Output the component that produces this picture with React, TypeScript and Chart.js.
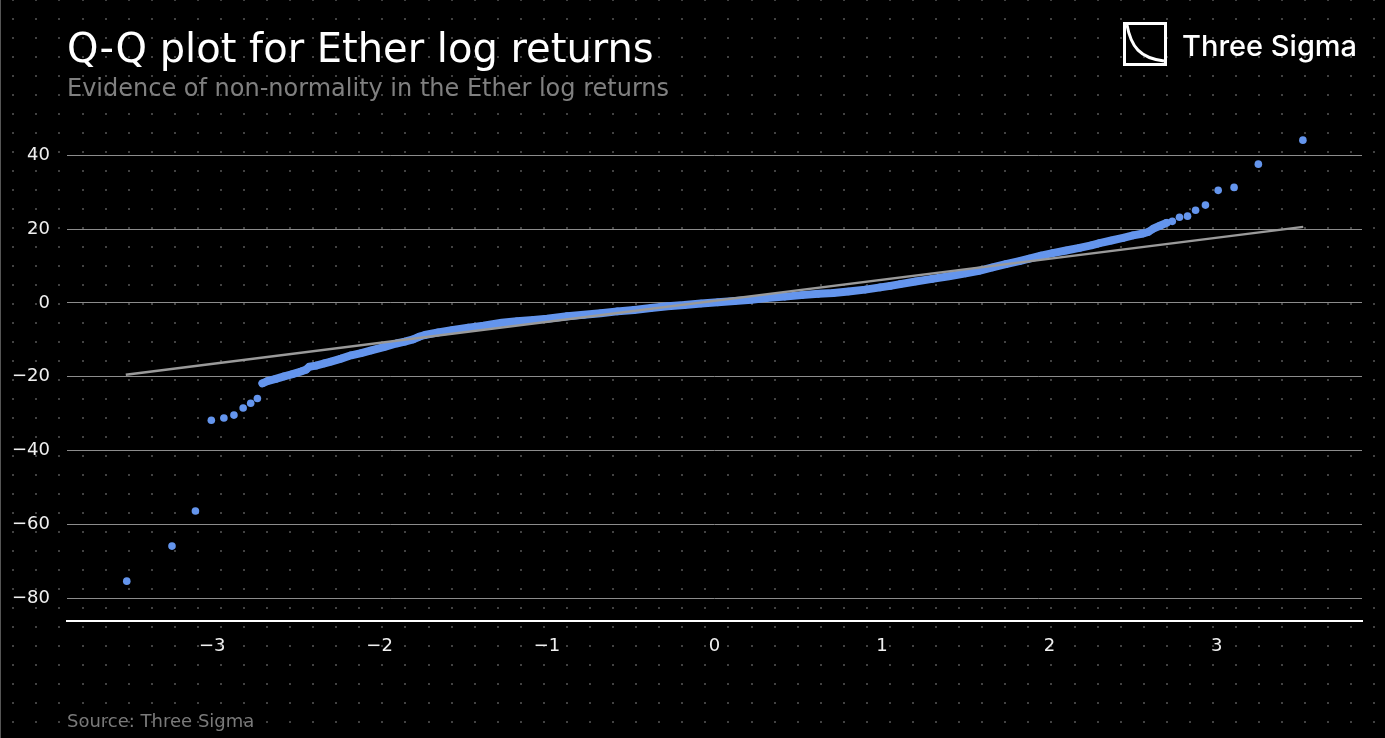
import React, { useEffect, useRef } from "react";
import { Chart, registerables } from "chart.js";

Chart.register(...registerables);

// Theoretical quantiles (x) and ordered Ether log returns (y)
const leftTailX = [-3.51, -3.24, -3.1, -3.005, -2.93, -2.87, -2.815, -2.77, -2.73];
const leftTailY = [-75.4, -65.9, -56.4, -31.8, -31.2, -30.4, -28.5, -27.2, -25.9];

const bodyX = [
  -2.7, -2.67, -2.62, -2.57, -2.52, -2.47, -2.44, -2.42, -2.38, -2.33, -2.29, -2.23, -2.17, -2.11,
  -2.05, -1.97, -1.9, -1.85, -1.8, -1.76, -1.73, -1.65, -1.57, -1.47, -1.38, -1.27, -1.18, -1.08,
  -1.0, -0.88, -0.78, -0.68, -0.58, -0.48, -0.38, -0.28, -0.18, -0.08, 0.02, 0.12, 0.22, 0.31,
  0.42, 0.52, 0.62, 0.71, 0.8, 0.9, 0.99, 1.05, 1.11, 1.2, 1.3, 1.4, 1.5, 1.58, 1.66, 1.74, 1.82,
  1.88, 1.95, 2.02, 2.1, 2.18, 2.25, 2.3, 2.37, 2.44, 2.5, 2.56, 2.59, 2.62, 2.66, 2.7,
];
const bodyY = [
  -21.8, -21.2, -20.6, -19.9, -19.3, -18.6, -18.1, -17.3, -17.0, -16.4, -15.9, -15.1, -14.2, -13.6,
  -12.9, -11.9, -11.0, -10.5, -9.9, -9.1, -8.7, -8.0, -7.4, -6.7, -6.2, -5.4, -5.0, -4.6,
  -4.3, -3.6, -3.2, -2.8, -2.3, -1.9, -1.4, -0.9, -0.6, -0.15, 0.15, 0.5, 0.85, 1.3,
  1.7, 2.1, 2.45, 2.7, 3.1, 3.6, 4.2, 4.6, 5.1, 5.8, 6.5, 7.2, 8.0, 8.7, 9.6, 10.5, 11.3,
  12.0, 12.8, 13.5, 14.2, 14.9, 15.6, 16.2, 16.9, 17.6, 18.3, 18.8, 19.2, 20.1, 20.9, 21.7,
];

const rightTailX = [2.734, 2.777, 2.825, 2.873, 2.932, 3.008, 3.103, 3.248, 3.514];
const rightTailY = [22.1, 23.2, 23.5, 25.1, 26.5, 30.5, 31.3, 37.6, 44.1];

// Least-squares reference line end points
const fitLineX = [-3.516, 3.516];
const fitLineY = [-19.5, 20.6];

const xTicks = [-3, -2, -1, 0, 1, 2, 3];
const yTicks = [-80, -60, -40, -20, 0, 20, 40];
const xLimits = [-3.867, 3.867];
const yLimits = [-86.2, 50.1];

const TITLE = "Q-Q plot for Ether log returns";
const SUBTITLE = "Evidence of non-normality in the Ether log returns";
const SOURCE = "Source: Three Sigma";
const BRAND = "Three Sigma";

const W = 1385;
const H = 738;
const BLUE = "#6495ED";

const toPoints = (xs: number[], ys: number[]) => xs.map((x, i) => ({ x, y: ys[i] }));
const fmt = (v: number) => (v < 0 ? "\u2212" + Math.abs(v) : String(v));

const backgroundPlugin = {
  id: "dotBackground",
  beforeDraw(chart: any) {
    const ctx = chart.ctx as CanvasRenderingContext2D;
    ctx.save();
    ctx.fillStyle = "#000000";
    ctx.fillRect(0, 0, chart.width, chart.height);
    ctx.fillStyle = "#424242";
    for (let y = 0.3; y < chart.height; y += 19) {
      for (let x = 13.3; x < chart.width; x += 23.07) {
        ctx.fillRect(Math.round(x) - 1, Math.round(y) - 1, 2, 2);
      }
    }
    ctx.fillStyle = "#555555";
    ctx.fillRect(0, 0, 1, chart.height);
    ctx.restore();
  },
};

export default function App() {
  const canvasRef = useRef<HTMLCanvasElement | null>(null);

  useEffect(() => {
    if (!canvasRef.current) return;
    const chart = new Chart(canvasRef.current, {
      type: "scatter",
      data: {
        datasets: [
          {
            label: "fit",
            data: toPoints(fitLineX, fitLineY),
            showLine: true,
            borderColor: "#9a9a9a",
            borderWidth: 2.5,
            pointRadius: 0,
          },
          {
            label: "body",
            data: toPoints(bodyX, bodyY),
            showLine: true,
            borderColor: BLUE,
            borderWidth: 8,
            borderCapStyle: "round",
            borderJoinStyle: "round",
            pointRadius: 3.8,
            pointBackgroundColor: BLUE,
            pointBorderWidth: 0,
          },
          {
            label: "tails",
            data: [...toPoints(leftTailX, leftTailY), ...toPoints(rightTailX, rightTailY)],
            showLine: false,
            pointRadius: 3.8,
            pointBackgroundColor: BLUE,
            pointBorderWidth: 0,
          },
        ],
      },
      options: {
        responsive: false,
        animation: false,
        devicePixelRatio: 1,
        layout: { padding: { left: 0, top: 118, right: 23, bottom: 77 } },
        plugins: {
          legend: { display: false },
          tooltip: { enabled: false },
          title: { display: false },
        },
        scales: {
          x: {
            type: "linear",
            min: xLimits[0],
            max: xLimits[1],
            afterFit: (s: any) => {
              s.height = 40;
            },
            afterBuildTicks: (s: any) => {
              s.ticks = xTicks.map((v) => ({ value: v }));
            },
            grid: { display: false, drawTicks: false },
            border: { display: true, color: "#ffffff", width: 2 },
            ticks: {
              color: "#f0f0f0",
              font: { family: "DejaVu Sans", size: 18 },
              padding: 15,
              maxRotation: 0,
              autoSkip: false,
              callback: (v: any) => fmt(Number(v)),
            },
          },
          y: {
            type: "linear",
            min: yLimits[0],
            max: yLimits[1],
            afterFit: (s: any) => {
              s.width = 67;
            },
            afterBuildTicks: (s: any) => {
              s.ticks = yTicks.map((v) => ({ value: v }));
            },
            grid: { color: "#8c8c8c", lineWidth: 1, drawTicks: false },
            border: { display: false },
            ticks: {
              color: "#f0f0f0",
              font: { family: "DejaVu Sans", size: 18 },
              padding: 17,
              autoSkip: false,
              callback: (v: any) => fmt(Number(v)),
            },
          },
        },
      },
      plugins: [backgroundPlugin],
    } as any);
    return () => chart.destroy();
  }, []);

  return (
    <div
      style={{
        position: "fixed",
        left: 0,
        top: 0,
        width: W,
        height: H,
        background: "#000",
        overflow: "hidden",
      }}
    >
      <canvas
        ref={canvasRef}
        width={W}
        height={H}
        style={{ position: "absolute", left: 0, top: 0, width: W, height: H }}
      />
      <svg
        width={W}
        height={H}
        style={{ position: "absolute", left: 0, top: 0, pointerEvents: "none" }}
      >
        <text x={67} y={62} fontFamily="DejaVu Sans" fontSize={40} fill="#ffffff">
          {TITLE}
        </text>
        <text x={67} y={96} fontFamily="DejaVu Sans" fontSize={24} fill="#808080">
          {SUBTITLE}
        </text>
        <text x={67} y={727} fontFamily="DejaVu Sans" fontSize={18} fill="#7a7a7a">
          {SOURCE}
        </text>
        <g transform="translate(1123,22)">
          <rect x={1.5} y={1.5} width={41} height={41} fill="none" stroke="#ffffff" strokeWidth={3} />
          <path d="M4 3 C 8 25, 17 36, 41 39" fill="none" stroke="#ffffff" strokeWidth={3} />
        </g>
        <text x={1182} y={56} fontFamily="Inter" fontWeight={500} fontSize={29} fill="#ffffff">
          {BRAND}
        </text>
      </svg>
    </div>
  );
}
